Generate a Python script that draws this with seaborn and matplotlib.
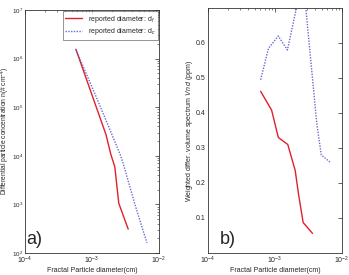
import numpy as np
import pandas as pd
import matplotlib
matplotlib.use('Agg')
import matplotlib.pyplot as plt
import seaborn as sns

# panel a) differential concentration vs diameter (cm)
a_df_x = [5.75e-4, 1.62e-3, 1.91e-3, 2.19e-3, 2.51e-3, 3.47e-3]
a_df_y = [1.55e6, 2.7e4, 1.07e4, 5.9e3, 1.05e3, 3.1e2]
a_dc_x = [5.75e-4, 1.32e-3, 2.63e-3, 2.88e-3, 4.37e-3, 5.37e-3, 6.61e-3]
a_dc_y = [1.55e6, 1.05e5, 1.07e4, 7.4e3, 1.0e3, 4.0e2, 1.62e2]

# panel b) weighted volume spectrum (ppm)
b_df_x = [6.1e-4, 8.9e-4, 1.12e-3, 1.55e-3, 2.0e-3, 2.24e-3, 2.63e-3, 3.63e-3]
b_df_y = [0.462, 0.408, 0.33, 0.31, 0.236, 0.169, 0.087, 0.056]
b_dc_x = [6.1e-4, 8.0e-4, 1.12e-3, 1.53e-3, 2.09e-3, 2.6e-3, 4.2e-3, 4.9e-3, 6.6e-3]
b_dc_y = [0.495, 0.585, 0.62, 0.58, 0.70, 0.79, 0.37, 0.28, 0.26]

labels = ['reported diameter: d$_f$', 'reported diameter: d$_c$']
colors = ['#e0202a', '#6a6ad0']

sns.set_style('white')
plt.rcParams['font.family'] = ['Liberation Sans', 'DejaVu Sans']
plt.rcParams['mathtext.fontset'] = 'custom'
plt.rcParams['mathtext.rm'] = 'Liberation Sans'
plt.rcParams['mathtext.it'] = 'Liberation Sans:italic'

fs = 5

fig = plt.figure(figsize=(3.49, 2.75), dpi=100)
ax1 = fig.add_axes([0.0716, 0.08, 0.384, 0.884])
ax2 = fig.add_axes([0.596, 0.08, 0.384, 0.891])


def make_df(xs, ys, name):
    return pd.DataFrame({'d': xs, 'v': ys, 'series': name})


dfa = pd.concat([make_df(a_df_x, a_df_y, labels[0]), make_df(a_dc_x, a_dc_y, labels[1])])
dfb = pd.concat([make_df(b_df_x, b_df_y, labels[0]), make_df(b_dc_x, b_dc_y, labels[1])])

for ax, df in [(ax1, dfa), (ax2, dfb)]:
    sns.lineplot(data=df, x='d', y='v', hue='series', style='series',
                 palette=colors, dashes=[(None, None), (1, 1)],
                 sort=False, estimator=None, ax=ax, lw=1.0, legend=(ax is ax1))
    ax.set_xscale('log')
    ax.set_xlim(1e-4, 1e-2)
    ax.set_xlabel('Fractal Particle diameter(cm)', fontsize=fs, labelpad=0.5)
    ax.tick_params(which='both', direction='in', top=True, right=True, labelsize=fs, pad=1.5)
    ax.tick_params(which='major', length=3, width=0.5)
    ax.tick_params(which='minor', length=1.5, width=0.4)
    for s in ax.spines.values():
        s.set_linewidth(0.6)
        s.set_color('#333333')

ax1.set_yscale('log')
ax1.set_ylim(1e2, 1e7)
ax1.tick_params(axis='y', labelsize=4.5, pad=1)
ax1.set_ylabel('Differential particle concentration n(# cm$^{-4}$)', fontsize=4.8)
ax1.yaxis.set_label_coords(-0.1, 0.5)
leg = ax1.legend(loc='upper right', fontsize=fs, frameon=True, fancybox=False,
                 borderpad=0.35, handlelength=2.4, labelspacing=0.25, borderaxespad=0.2)
leg.get_frame().set_edgecolor('#444444')
leg.get_frame().set_linewidth(0.5)
ax1.text(0.01, 0.02, 'a)', transform=ax1.transAxes, fontsize=13,
         ha='left', va='bottom', bbox=dict(facecolor='white', edgecolor='none', pad=0.5))

ax2.set_ylim(0, 0.7)
ax2.set_yticks([0.1, 0.2, 0.3, 0.4, 0.5, 0.6])
ax2.set_ylabel('Weighted differ. volume spectrum $V\\,n\\,d$ (ppm)', fontsize=fs, labelpad=1)
ax2.text(0.09, 0.02, 'b)', transform=ax2.transAxes, fontsize=13,
         ha='left', va='bottom')

fig.savefig('out.png', dpi=100)
